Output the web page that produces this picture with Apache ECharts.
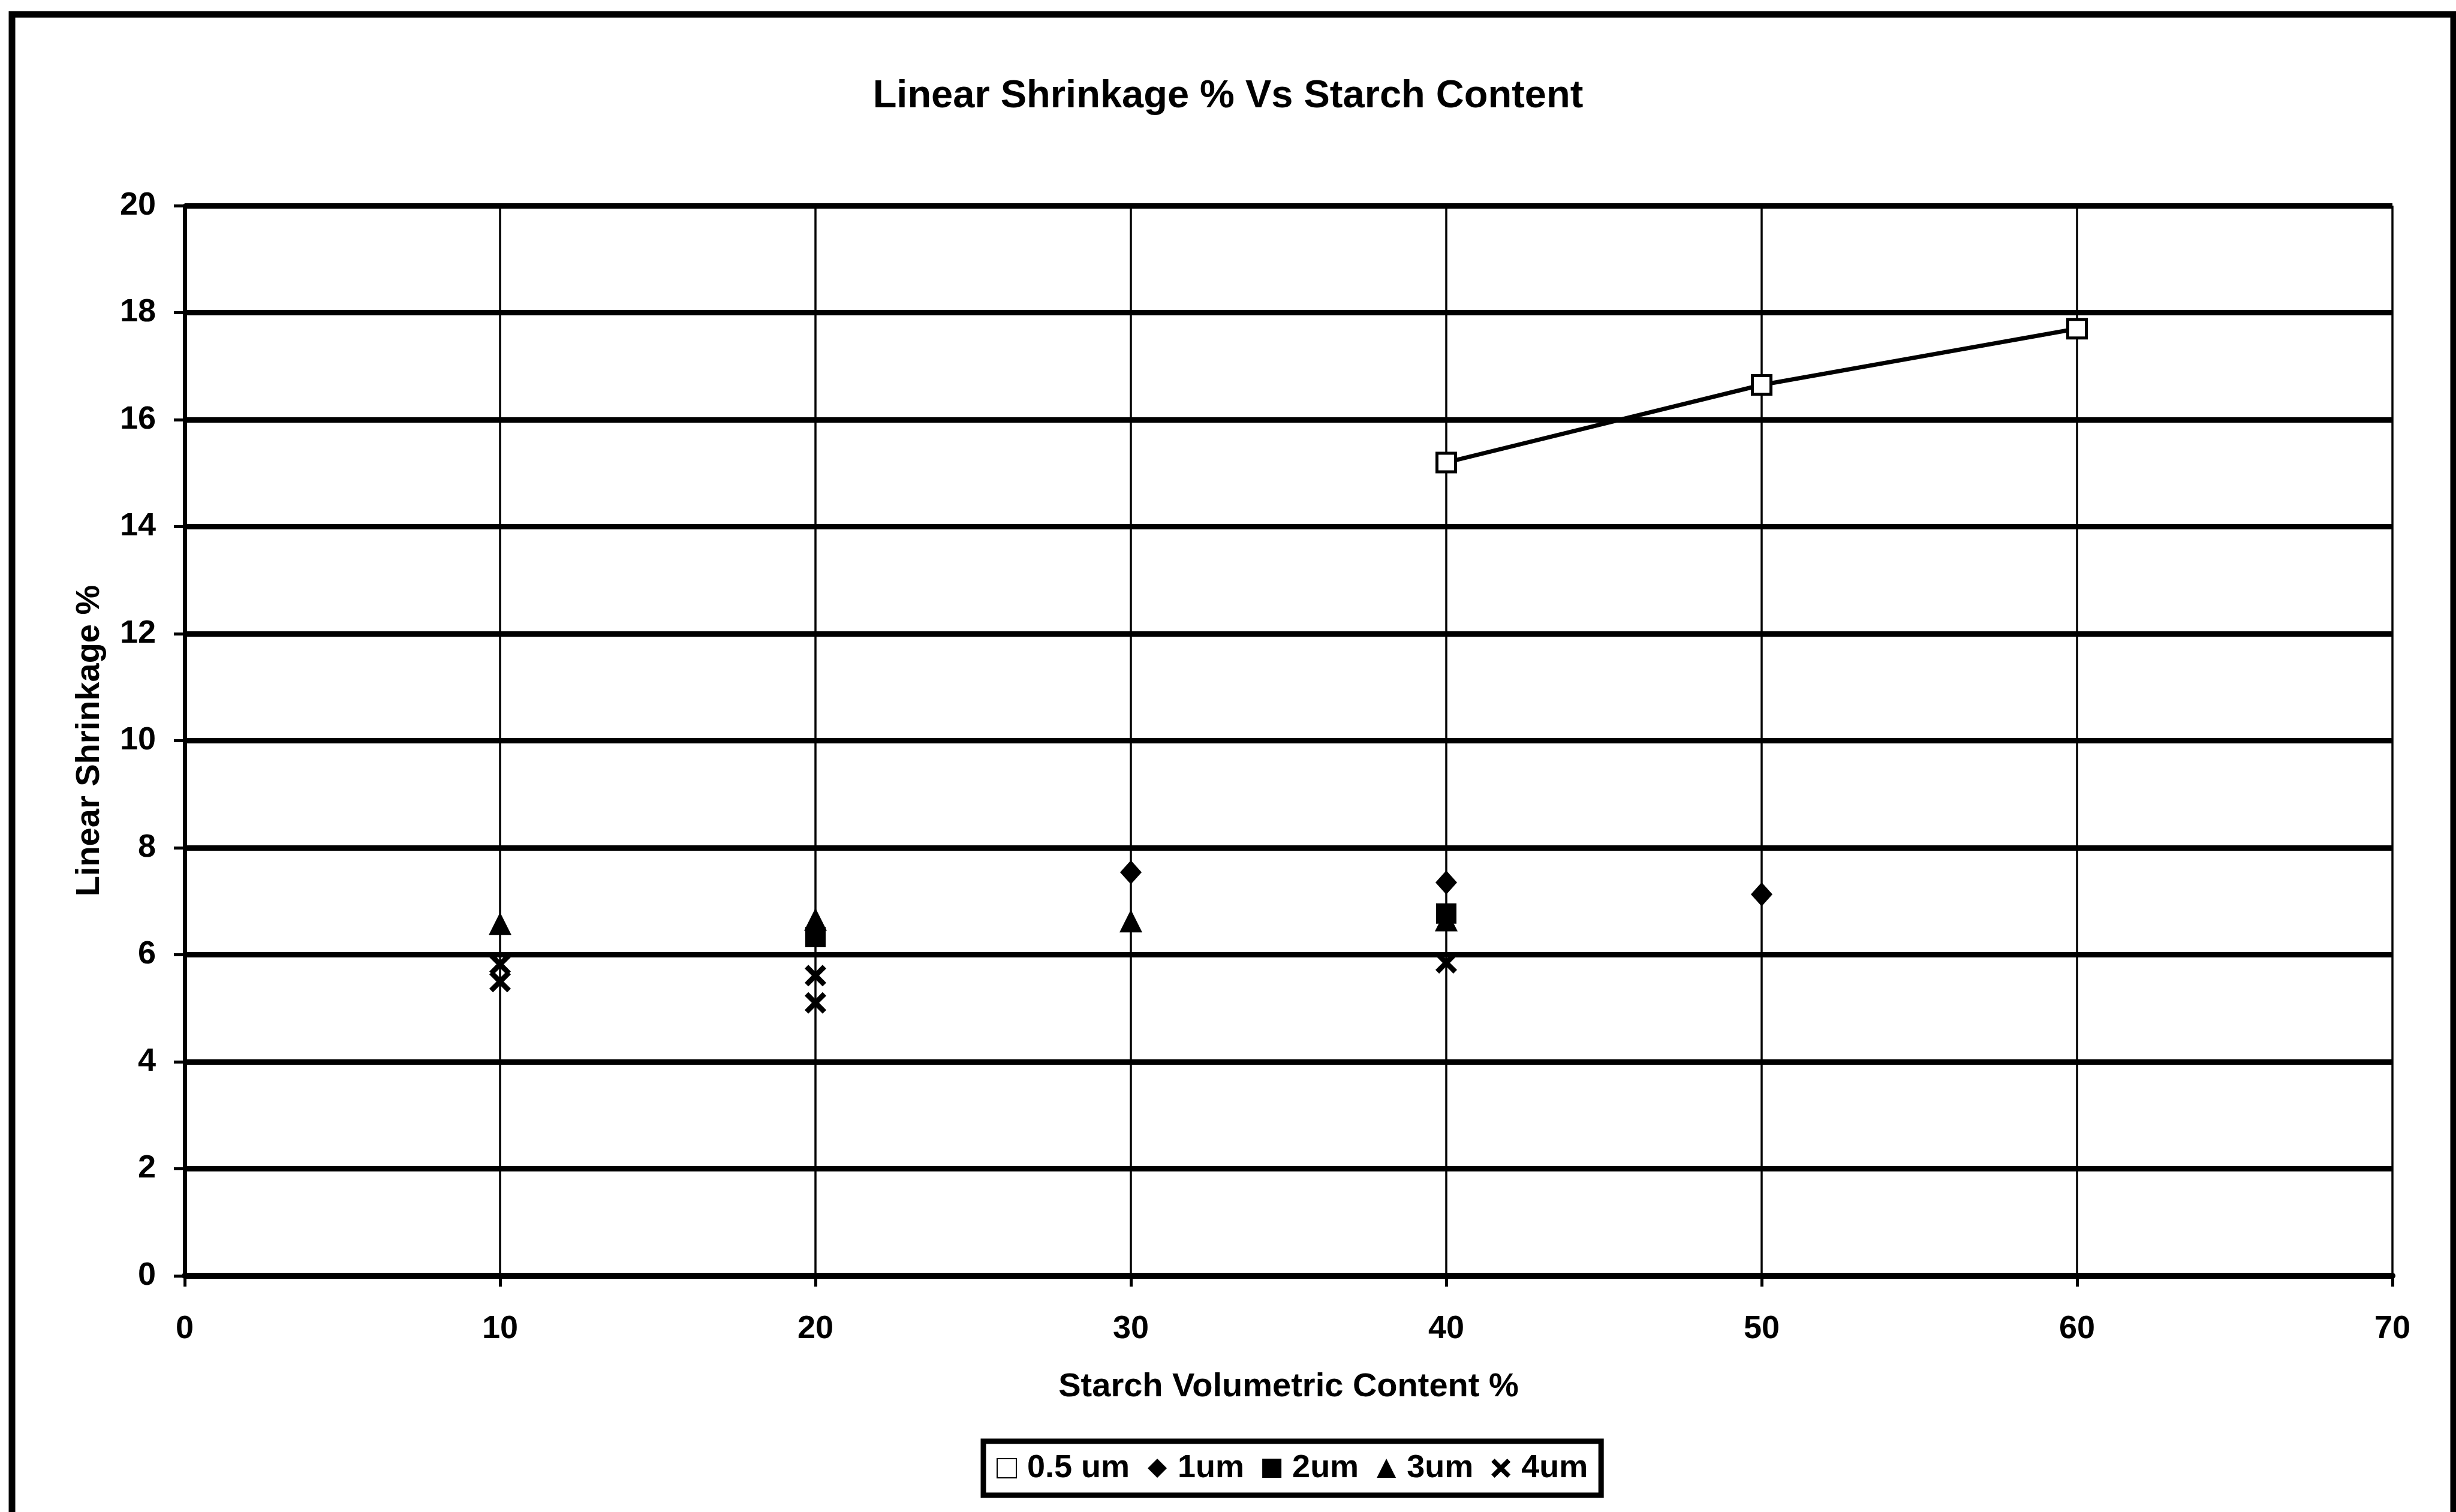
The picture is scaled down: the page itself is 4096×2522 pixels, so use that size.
<!DOCTYPE html>
<html>
<head>
<meta charset="utf-8">
<script src="https://cdn.jsdelivr.net/npm/echarts@6/dist/echarts.min.js"></script>
<style>
html,body{margin:0;padding:0;background:#fff;}
#chart{width:4096px;height:2522px;}
</style>
</head>
<body>
<div id="chart"></div>
<script>
// ---- data ----
const x05 = [40, 50, 60];
const y05 = [15.2, 16.65, 17.7];
const x1 = [30, 40, 50];
const y1 = [7.54, 7.35, 7.13];
const x2 = [20, 40];
const y2 = [6.33, 6.77];
const x3 = [10, 20, 30, 40];
const y3 = [6.58, 6.66, 6.63, 6.65];
const x4 = [10, 10, 20, 20, 40];
const y4 = [5.82, 5.5, 5.61, 5.1, 5.85];
const seriesNames = ['0.5 um', '1um', '2um', '3um', '4um'];
const titleText = 'Linear Shrinkage % Vs Starch Content';
const xName = 'Starch Volumetric Content %';
const yName = 'Linear Shrinkage %';

const pairs = (xs, ys) => xs.map((v, i) => [v, ys[i]]);
const FONT = 'Liberation Sans, Arial, sans-serif';
const crossPath = 'path://M0,1.7 L1.7,0 L5,3.3 L8.3,0 L10,1.7 L6.7,5 L10,8.3 L8.3,10 L5,6.7 L1.7,10 L0,8.3 L3.3,5 Z';

const chart = echarts.init(document.getElementById('chart'), null, {renderer: 'canvas'});
chart.setOption({
  backgroundColor: '#ffffff',
  animation: false,
  title: {
    text: titleText,
    left: 'center',
    top: 124,
    textStyle: {fontFamily: FONT, fontSize: 65, fontWeight: 'bold', color: '#000'}
  },
  graphic: [{
    type: 'rect',
    shape: {x: 20, y: 24, width: 4072, height: 2600},
    style: {fill: 'none', stroke: '#000', lineWidth: 11},
    silent: true
  }],
  grid: {left: 308, right: 106, top: 343, bottom: 394, containLabel: false},
  xAxis: {
    type: 'value', min: 0, max: 70, interval: 10,
    name: xName, nameLocation: 'middle', nameGap: 158,
    nameTextStyle: {fontFamily: FONT, fontSize: 56, fontWeight: 'bold', color: '#000'},
    axisLine: {show: true, onZero: false, lineStyle: {color: '#000', width: 10}},
    axisTick: {show: true, inside: false, length: 18, lineStyle: {color: '#000', width: 5}},
    axisLabel: {margin: 62, fontFamily: FONT, fontSize: 54, fontWeight: 'bold', color: '#000'},
    splitLine: {show: true, lineStyle: {color: '#000', width: 3.5}}
  },
  yAxis: {
    type: 'value', min: 0, max: 20, interval: 2,
    name: yName, nameLocation: 'middle', nameGap: 130, nameRotate: 90,
    nameTextStyle: {fontFamily: FONT, fontSize: 56, fontWeight: 'bold', color: '#000'},
    axisLine: {show: true, lineStyle: {color: '#000', width: 7}},
    axisTick: {show: true, inside: false, length: 18, lineStyle: {color: '#000', width: 5}},
    axisLabel: {margin: 48, fontFamily: FONT, fontSize: 54, fontWeight: 'bold', color: '#000'},
    splitLine: {show: true, lineStyle: {color: '#000', width: 9}}
  },
  legend: {
    left: 1640, top: 2404,
    orient: 'horizontal',
    padding: [18, 22],
    itemGap: 30,
    itemWidth: 32, itemHeight: 32,
    borderColor: '#000', borderWidth: 9, backgroundColor: '#fff',
    textStyle: {fontFamily: FONT, fontSize: 54, fontWeight: 'bold', color: '#000', padding: [0, 0, 0, 13]},
    data: [
      {name: seriesNames[0], icon: 'rect'},
      {name: seriesNames[1], icon: 'diamond'},
      {name: seriesNames[2], icon: 'rect'},
      {name: seriesNames[3], icon: 'triangle'},
      {name: seriesNames[4], icon: crossPath}
    ]
  },
  series: [
    {
      name: seriesNames[0], type: 'line', data: pairs(x05, y05),
      symbol: 'rect', symbolSize: 31, showAllSymbol: true,
      lineStyle: {color: '#000', width: 7},
      itemStyle: {color: '#fff', borderColor: '#000', borderWidth: 5},
      z: 3
    },
    {
      name: seriesNames[1], type: 'scatter', data: pairs(x1, y1),
      symbol: 'diamond', symbolSize: [36, 40],
      itemStyle: {color: '#000', opacity: 1}, z: 4
    },
    {
      name: seriesNames[2], type: 'scatter', data: pairs(x2, y2),
      symbol: 'rect', symbolSize: 34,
      itemStyle: {color: '#000', opacity: 1}, z: 5
    },
    {
      name: seriesNames[3], type: 'scatter', data: pairs(x3, y3),
      symbol: 'triangle', symbolSize: 38,
      itemStyle: {color: '#000', opacity: 1}, z: 6
    },
    {
      name: seriesNames[4], type: 'scatter', data: pairs(x4, y4),
      symbol: crossPath, symbolSize: 36,
      itemStyle: {color: '#000', opacity: 1}, z: 7
    }
  ]
});
</script>
</body>
</html>
